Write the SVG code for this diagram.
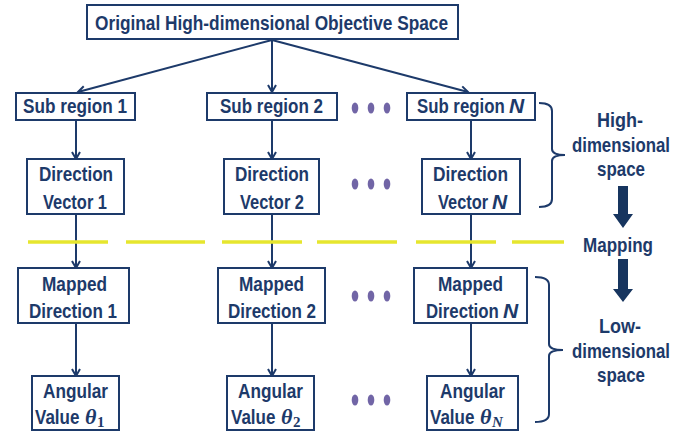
<svg xmlns="http://www.w3.org/2000/svg" width="697" height="435" viewBox="0 0 697 435">
<defs>
<style>
.box{fill:#fff;stroke:#1d3a6a;stroke-width:2}
.t{font-family:"Liberation Sans",Arial,sans-serif;font-weight:bold;font-size:21px;fill:#1d3a6a;text-anchor:middle}
.s{text-anchor:start}
.it{font-style:italic}
.th{font-family:"Liberation Serif","Times New Roman",serif;font-style:italic;font-weight:bold;font-size:22px;fill:#1d3a6a}
.sb{font-family:"Liberation Serif","Times New Roman",serif;font-weight:bold;font-size:15px;fill:#1d3a6a}
.c{stroke:#1d3a6a;stroke-width:2;fill:none}
.dot{fill:#7165a6}
.yl{stroke:#e6e62e;stroke-width:3.5}
.br{stroke:#1d3a6a;stroke-width:2;fill:none}
.big{fill:#17355f}
</style>
<marker id="ah" markerUnits="userSpaceOnUse" markerWidth="12" markerHeight="12" refX="8" refY="5" orient="auto">
<path d="M1,1 L8,5 L1,9" fill="none" stroke="#1d3a6a" stroke-width="2"/>
</marker>
</defs>
<rect width="697" height="435" fill="#fff"/>

<g id="connectors">
<line class="c" x1="272" y1="40" x2="78" y2="92" marker-end="url(#ah)"/>
<line class="c" x1="272" y1="40" x2="272" y2="92" marker-end="url(#ah)"/>
<line class="c" x1="272" y1="40" x2="468" y2="92" marker-end="url(#ah)"/>
<line class="c" x1="76" y1="121" x2="76" y2="159" marker-end="url(#ah)"/>
<line class="c" x1="272" y1="121" x2="272" y2="159" marker-end="url(#ah)"/>
<line class="c" x1="471" y1="121" x2="471" y2="159" marker-end="url(#ah)"/>
<line class="c" x1="76" y1="215" x2="76" y2="268" marker-end="url(#ah)"/>
<line class="c" x1="272" y1="215" x2="272" y2="268" marker-end="url(#ah)"/>
<line class="c" x1="471" y1="215" x2="471" y2="268" marker-end="url(#ah)"/>
<line class="c" x1="76" y1="324" x2="76" y2="376" marker-end="url(#ah)"/>
<line class="c" x1="272" y1="324" x2="272" y2="376" marker-end="url(#ah)"/>
<line class="c" x1="471" y1="324" x2="471" y2="376" marker-end="url(#ah)"/>
</g>

<g id="mapping-line">
<line class="yl" x1="28" y1="242" x2="108" y2="242"/>
<line class="yl" x1="126" y1="242" x2="205" y2="242"/>
<line class="yl" x1="222" y1="242" x2="302" y2="242"/>
<line class="yl" x1="317" y1="242" x2="397" y2="242"/>
<line class="yl" x1="416" y1="242" x2="496" y2="242"/>
<line class="yl" x1="512" y1="242" x2="564" y2="242"/>
</g>

<g id="top">
<rect class="box" x="87" y="5" width="371" height="34"/>
<text class="t" x="271.5" y="30" font-size="22" textLength="353" lengthAdjust="spacingAndGlyphs">Original High-dimensional Objective Space</text>
</g>

<g id="sub1"><rect class="box" x="16" y="93" width="119" height="27"/><text class="t" x="75" y="113" textLength="104" lengthAdjust="spacingAndGlyphs">Sub region 1</text></g>
<g id="sub2"><rect class="box" x="207" y="93" width="130" height="27"/><text class="t" x="271.5" y="113" textLength="103" lengthAdjust="spacingAndGlyphs">Sub region 2</text></g>
<g id="subN"><rect class="box" x="407" y="93" width="128" height="27"/><text class="t s" transform="translate(417,113) scale(0.8,1)">Sub region</text><text class="t s it" x="509" y="113">N</text></g>

<g id="dir1"><rect class="box" x="27" y="159" width="97" height="55"/><text class="t" x="76" y="181" textLength="74" lengthAdjust="spacingAndGlyphs">Direction</text><text class="t" x="75" y="209" textLength="64" lengthAdjust="spacingAndGlyphs">Vector 1</text></g>
<g id="dir2"><rect class="box" x="224" y="159" width="95" height="55"/><text class="t" x="272" y="181" textLength="74" lengthAdjust="spacingAndGlyphs">Direction</text><text class="t" x="272" y="209" textLength="64" lengthAdjust="spacingAndGlyphs">Vector 2</text></g>
<g id="dirN"><rect class="box" x="422" y="159" width="98" height="55"/><text class="t" x="470.5" y="181" textLength="75" lengthAdjust="spacingAndGlyphs">Direction</text><text class="t s" transform="translate(438,209) scale(0.78,1)">Vector</text><text class="t s it" x="492" y="209">N</text></g>

<g id="map1"><rect class="box" x="18" y="268" width="111" height="55"/><text class="t" x="74.5" y="291" textLength="65" lengthAdjust="spacingAndGlyphs">Mapped</text><text class="t" x="73" y="318" textLength="88" lengthAdjust="spacingAndGlyphs">Direction 1</text></g>
<g id="map2"><rect class="box" x="218" y="268" width="107" height="55"/><text class="t" x="271.5" y="291" textLength="65" lengthAdjust="spacingAndGlyphs">Mapped</text><text class="t" x="272" y="318" textLength="88" lengthAdjust="spacingAndGlyphs">Direction 2</text></g>
<g id="mapN"><rect class="box" x="414" y="268" width="113" height="55"/><text class="t" x="470.5" y="291" textLength="65" lengthAdjust="spacingAndGlyphs">Mapped</text><text class="t s" transform="translate(426,318) scale(0.8,1)">Direction</text><text class="t s it" x="503" y="318">N</text></g>

<g id="ang1"><rect class="box" x="32" y="376" width="87" height="54"/><text class="t" x="75.5" y="398" textLength="65" lengthAdjust="spacingAndGlyphs">Angular</text><text class="t s" transform="translate(35,424) scale(0.81,1)">Value</text><text class="th" x="85" y="424">θ</text><text class="sb" x="97" y="427">1</text></g>
<g id="ang2"><rect class="box" x="227" y="376" width="87" height="54"/><text class="t" x="270.5" y="398" textLength="65" lengthAdjust="spacingAndGlyphs">Angular</text><text class="t s" transform="translate(231,424) scale(0.81,1)">Value</text><text class="th" x="281" y="424">θ</text><text class="sb" x="293" y="427">2</text></g>
<g id="angN"><rect class="box" x="427" y="376" width="91" height="54"/><text class="t" x="472.5" y="398" textLength="65" lengthAdjust="spacingAndGlyphs">Angular</text><text class="t s" transform="translate(430,424) scale(0.81,1)">Value</text><text class="th" x="480" y="424">θ</text><text class="sb it" x="492" y="427">N</text></g>

<g id="dots">
<ellipse class="dot" cx="355" cy="108" rx="3.3" ry="5.5"/><ellipse class="dot" cx="371" cy="108" rx="3.3" ry="5.5"/><ellipse class="dot" cx="387" cy="108" rx="3.3" ry="5.5"/>
<ellipse class="dot" cx="355" cy="184" rx="3.3" ry="5.5"/><ellipse class="dot" cx="371" cy="184" rx="3.3" ry="5.5"/><ellipse class="dot" cx="387" cy="184" rx="3.3" ry="5.5"/>
<ellipse class="dot" cx="355" cy="296" rx="3.3" ry="5.5"/><ellipse class="dot" cx="371" cy="296" rx="3.3" ry="5.5"/><ellipse class="dot" cx="387" cy="296" rx="3.3" ry="5.5"/>
<ellipse class="dot" cx="355" cy="400" rx="3.3" ry="5.5"/><ellipse class="dot" cx="371" cy="400" rx="3.3" ry="5.5"/><ellipse class="dot" cx="387" cy="400" rx="3.3" ry="5.5"/>
</g>

<g id="high-space">
<path class="br" d="M539,103 Q552,103 552,111 L552,149 Q552,155 565,155 Q552,155 552,161 L552,199 Q552,207 539,207"/>
<text class="t" x="620" y="127" textLength="46" lengthAdjust="spacingAndGlyphs">High-</text>
<text class="t" x="621" y="152" textLength="98" lengthAdjust="spacingAndGlyphs">dimensional</text>
<text class="t" x="621" y="176" textLength="48" lengthAdjust="spacingAndGlyphs">space</text>
</g>

<g id="mapping">
<polygon class="big" points="618,186 628,186 628,214 633,214 623,228 613,214 618,214"/>
<text class="t" x="618" y="252" textLength="70" lengthAdjust="spacingAndGlyphs">Mapping</text>
<polygon class="big" points="618,259 628,259 628,289 633,289 623,302 613,289 618,289"/>
</g>

<g id="low-space">
<path class="br" d="M535,277 Q549,277 549,285 L549,344 Q549,350 563,350 Q549,350 549,356 L549,414 Q549,422 535,422"/>
<text class="t" x="620" y="333" textLength="42" lengthAdjust="spacingAndGlyphs">Low-</text>
<text class="t" x="621" y="358" textLength="98" lengthAdjust="spacingAndGlyphs">dimensional</text>
<text class="t" x="621" y="382" textLength="48" lengthAdjust="spacingAndGlyphs">space</text>
</g>
</svg>
